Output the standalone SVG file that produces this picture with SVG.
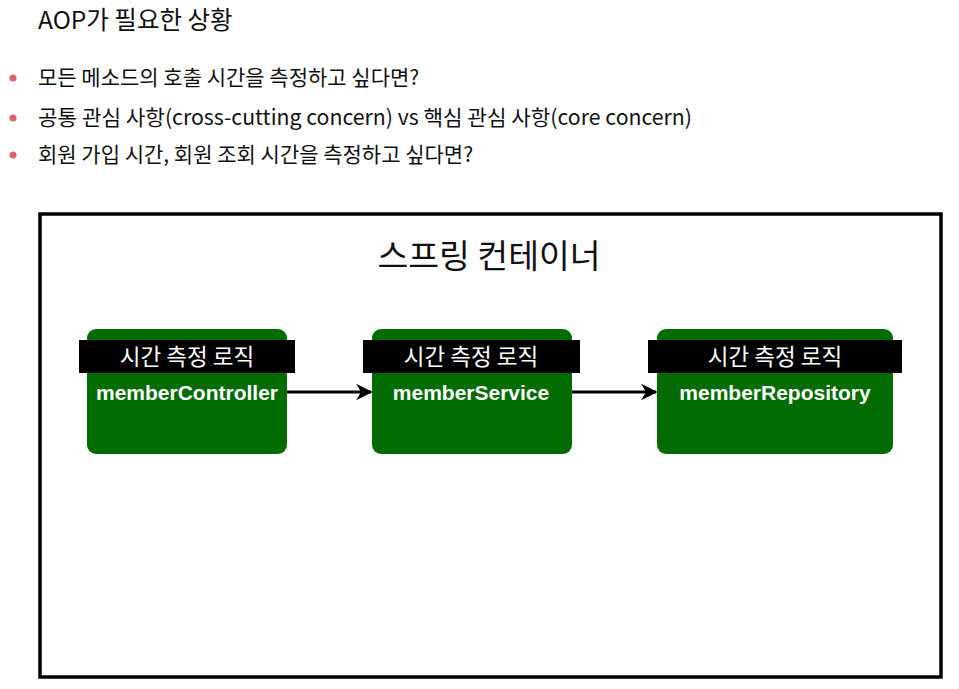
<svg xmlns="http://www.w3.org/2000/svg" width="959" height="689" viewBox="0 0 959 689">
<defs>
<style>
.kr{font-family:"Noto Sans CJK KR","Noto Sans",sans-serif;fill:#111;}
.title{font-size:24.5px;}
.bul{font-size:21px;}
.dot{fill:#d9626b;}
.node rect.body{fill:#036d03;}
.node rect.band{fill:#000;}
.band-t{font-family:"Noto Sans CJK KR","Liberation Sans",sans-serif;font-size:22.5px;fill:#fff;text-anchor:middle;}
.name-t{font-family:"Liberation Sans","Noto Sans CJK KR",sans-serif;font-size:21px;font-weight:bold;fill:#fff;text-anchor:middle;}
.conn line{stroke:#000;stroke-width:3;}
</style>
<marker id="ah" viewBox="0 0 10 10" refX="9" refY="5" markerWidth="5.5" markerHeight="5.5" orient="auto" markerUnits="strokeWidth">
<path d="M0,0 L10,5 L0,10 L3,5 Z" fill="#000"/>
</marker>
</defs>
<rect width="959" height="689" fill="#fff"/>
<text class="kr title" x="38" y="29">AOP가 필요한 상황</text>
<circle class="dot" cx="13" cy="78" r="3.5"/>
<circle class="dot" cx="13" cy="118" r="3.5"/>
<circle class="dot" cx="13" cy="155" r="3.5"/>
<text class="kr bul" x="38" y="85">모든 메소드의 호출 시간을 측정하고 싶다면?</text>
<text class="kr bul" x="38" y="125" textLength="654" lengthAdjust="spacingAndGlyphs">공통 관심 사항(cross-cutting concern) vs 핵심 관심 사항(core concern)</text>
<text class="kr bul" x="38" y="162">회원 가입 시간, 회원 조회 시간을 측정하고 싶다면?</text>
<g id="container">
<rect x="40" y="214" width="901" height="463" fill="none" stroke="#000" stroke-width="3.5"/>
<text class="kr" x="489" y="268" font-size="33.5" text-anchor="middle">스프링 컨테이너</text>
</g>
<g id="memberController" class="node">
<rect class="body" x="87" y="329" width="200" height="125" rx="9"/>
<rect class="band" x="79" y="340" width="216" height="33"/>
<text class="band-t" x="187" y="365">시간 측정 로직</text>
<text class="name-t" x="187" y="400">memberController</text>
</g>
<g id="memberService" class="node">
<rect class="body" x="372" y="329" width="200" height="125" rx="9"/>
<rect class="band" x="363" y="340" width="217" height="33"/>
<text class="band-t" x="471" y="365">시간 측정 로직</text>
<text class="name-t" x="471" y="400">memberService</text>
</g>
<g id="memberRepository" class="node">
<rect class="body" x="657" y="329" width="236" height="125" rx="9"/>
<rect class="band" x="648" y="340" width="254" height="33"/>
<text class="band-t" x="775" y="365">시간 측정 로직</text>
<text class="name-t" x="775" y="400">memberRepository</text>
</g>
<g id="connectors" class="conn">
<line x1="287" y1="392" x2="371" y2="392" marker-end="url(#ah)"/>
<line x1="572" y1="392" x2="656" y2="392" marker-end="url(#ah)"/>
</g>
</svg>
